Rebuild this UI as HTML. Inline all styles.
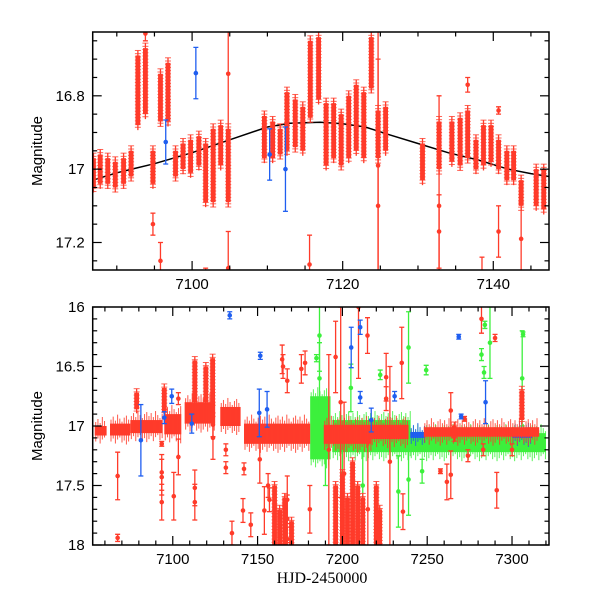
<!DOCTYPE html>
<html><head><meta charset="utf-8"><style>
html,body{margin:0;padding:0;background:#fff;}
svg{display:block;font-family:"Liberation Sans",sans-serif;}
</style></head><body>
<svg id="chart" width="600" height="600" viewBox="0 0 600 600" xmlns="http://www.w3.org/2000/svg">
<rect width="600" height="600" fill="#fff"/>
<g id="top"></g>
<g id="bot"></g>
<text transform="translate(42,151) rotate(-90)" text-anchor="middle" font-size="15">Magnitude</text>
<text transform="translate(42,426) rotate(-90)" text-anchor="middle" font-size="15">Magnitude</text>
<text x="322" y="583" text-anchor="middle" font-size="16" font-family="Liberation Serif, serif">HJD-2450000</text>
</svg>
<script>
// ---------- TOP PANEL DATA ----------
const topClT=[7086.9,7087.8,7088.8,7089.8,7090.9,7091.9,7092.8,7093.8,7094.8,7095.8,7096.8,7097.8,7098.8,7099.8,7100.9,7101.8,7102.8,7103.8,7104.8,7109.6,7110.7,7111.7,7112.6,7113.7,7114.7,7115.7,7116.8,7117.8,7118.8,7119.8,7120.8,7121.8,7122.8,7123.8,7124.7,7125.7,7130.6,7132.8,7134.5,7135.6,7136.6,7137.7,7138.7,7139.7,7140.7,7141.8,7142.7,7143.7,7145.7,7146.7];
const topClMin=[16.97,16.96,16.97,16.98,16.97,16.95,16.69,16.67,16.95,16.74,16.71,16.95,16.93,16.92,16.91,16.93,16.89,16.88,16.89,16.855,16.87,16.89,16.79,16.81,16.83,16.65,16.64,16.82,16.82,16.85,16.80,16.77,16.79,16.64,16.84,16.83,16.93,16.87,16.87,16.86,16.84,16.92,16.88,16.88,16.92,16.95,16.95,17.03,17.0,17.0];
const topClMax=[17.05,17.04,17.04,17.05,17.04,17.02,16.88,16.85,17.04,16.87,16.87,17.02,17.0,17.01,16.99,17.09,17.09,16.99,17.09,16.97,16.97,16.96,16.95,16.94,16.95,16.86,16.81,16.99,16.97,16.99,16.97,16.95,16.97,16.78,16.97,16.95,17.03,17.0,16.98,16.99,16.97,17.0,16.99,16.98,17.0,17.03,17.03,17.1,17.1,17.11];
const topRedT=[7093.8,7094.8,7095.8,7104.8,7104.8,7124.7,7124.7,7132.8,7132.8,7136.6,7140.7,7140.7,7143.7,7101.8,7115.6,7138.5];
const topRedM=[16.63,17.15,17.25,16.74,17.27,16.99,17.10,17.17,17.10,16.77,16.84,17.17,17.19,17.29,17.26,17.28];
const topRedE=[0.02,0.03,0.05,0.25,0.1,0.4,0.4,0.1,0.3,0.02,0.01,0.07,0.1,0.02,0.08,0.04];
const topBlueT=[7096.5,7100.5,7110.3,7112.4];
const topBlueM=[16.926,16.738,16.96,17.0];
const topBlueE=[0.06,0.07,0.07,0.115];
const modelT=[7086.8,7090,7095,7100,7105,7110,7113,7117,7120,7123,7126,7130,7134,7138,7142,7145,7147.4];
const modelM=[17.03,17.01,16.985,16.955,16.92,16.885,16.875,16.872,16.876,16.885,16.905,16.93,16.955,16.975,17.0,17.012,17.02];
const topXTicks=[7100,7120,7140];
const topXLabels=["7100","7120","7140"];
const topYTicks=[16.8,17,17.2];
const topYLabels=["16.8","17","17.2"];

// ---------- BOTTOM PANEL DATA ----------
const botBandT0=[7054,7063,7075,7095,7107,7128,7142,7189,7217,7248];
const botBandT1=[7061,7075,7094,7105,7125,7140,7181,7217,7239,7316];
const botBandMin=[17.0,16.98,16.95,16.9,16.8,16.84,16.98,16.99,16.99,17.01];
const botBandMax=[17.08,17.08,17.06,17.07,16.98,17.0,17.15,17.15,17.11,17.09];
const gBandT0=[7181,7194,7240];
const gBandT1=[7193,7240,7320];
const gBandMin=[16.75,16.95,17.06];
const gBandMax=[17.28,17.22,17.22];
const bBandT0=[7240,7300];
const bBandT1=[7249,7312];
const bBandMin=[17.05,17.04];
const bBandMax=[17.1,17.1];
const colT=[7078.7,7095,7113,7119.5,7123.5,7160,7163,7166,7170,7196,7200,7203,7206,7209,7212,7220,7222,7305.8,7266];
const colMin=[16.72,16.68,16.45,16.5,16.43,17.5,17.7,17.6,17.8,17.5,17.4,17.6,17.3,17.5,17.6,17.5,17.7,16.7,17.0];
const colMax=[16.86,16.88,16.8,16.8,16.8,18,18,18,18,18,18,18,18,18,18,18,18,16.95,17.1];
const bRedT=[7067.5,7067.5,7093.5,7093.5,7093.5,7093.5,7100.6,7103.3,7103.3,7113,7113,7123.7,7123.7,7131.3,7131.3,7134.9,7142,7141.4,7146,7151.3,7154,7156.2,7157,7164.5,7165,7167.5,7167.5,7167.5,7167.5,7175.8,7178,7180.8,7196,7199,7209.5,7214.8,7235,7225.8,7225.8,7201,7235.7,7263.9,7263.9,7257.8,7261.6,7272,7274,7290,7291,7282,7300,7283,7192,7215,7228];
const bRedM=[17.42,17.94,17.15,17.39,17.43,17.64,17.59,16.77,17.26,17.52,17.64,17.1,16.99,17.2,17.35,17.9,17.36,17.71,17.83,17.28,17.71,17.5,17.62,16.44,16.5,16.62,17.62,17.78,17.95,16.52,16.47,17.7,16.42,16.8,16.0,16.24,16.47,16.59,16.77,17.4,17.72,16.87,17.41,17.38,17.47,16.94,17.25,16.26,17.54,16.1,17.2,17.2,17.2,17.7,17.3];
const bRedE=[0.2,0.03,0.02,0.15,0.15,0.15,0.2,0.05,0.15,0.15,0.15,0.18,0.1,0.05,0.05,0.1,0.05,0.1,0.1,0.2,0.2,0.1,0.1,0.12,0.1,0.1,0.2,0.2,0.1,0.12,0.1,0.2,0.3,0.8,0.6,0.15,0.3,0.2,0.1,0.6,0.15,0.15,0.2,0.02,0.15,0.02,0.05,0.03,0.15,0.12,0.05,0.05,0.8,0.7,0.8];
const bBlueT=[7133.6,7151.6,7155.6,7151,7081.2,7095,7099.4,7111.2,7205.2,7210.5,7210.5,7230.8,7284.4,7268.6,7270,7217];
const bBlueM=[16.07,16.41,16.86,16.89,17.12,16.93,16.75,16.98,16.34,16.17,16.76,16.75,16.8,16.25,16.92,16.95];
const bBlueE=[0.03,0.03,0.15,0.2,0.3,0.05,0.06,0.08,0.17,0.06,0.05,0.04,0.18,0.02,0.02,0.1];
const bGreenT=[7184.7,7186.5,7306.5,7284,7282,7287,7249.4,7239,7222.3,7186.5,7283.5,7205,7239,7247,7233,7306,7200,7190,7212];
const bGreenM=[16.43,16.24,16.23,16.15,16.4,16.3,16.53,16.34,16.57,16.6,16.55,16.68,17.45,17.38,17.55,16.6,17.4,17.2,17.5];
const bGreenE=[0.03,0.3,0.02,0.03,0.05,0.3,0.04,0.3,0.04,0.3,0.05,0.2,0.3,0.1,0.3,0.4,0.3,0.3,0.3];
const botXTicks=[7100,7150,7200,7250,7300];
const botXLabels=["7100","7150","7200","7250","7300"];
const botYTicks=[16,16.5,17,17.5,18];
const botYLabels=["16","16.5","17","17.5","18"];

const RED="#ff3b2a", BLUE="#1f5ef0", GREEN="#3cf03c";
const NS="http://www.w3.org/2000/svg";
function mk(parent,tag,attrs){const e=document.createElementNS(NS,tag);for(const k in attrs)e.setAttribute(k,attrs[k]);parent.appendChild(e);return e;}

function panel(g,L,R,T,B,t0,t1,m0,m1){
  const x=t=>L+(t-t0)/(t1-t0)*(R-L);
  const y=m=>T+(m-m0)/(m1-m0)*(B-T);
  return {x,y,L,R,T,B,g};
}
const P1=panel(document.getElementById('top'),92.7,549,32,270,7086.8,7147.4,16.626,17.275);
const P2=panel(document.getElementById('bot'),92.7,549,307,545,7052.8,7321.8,16,18);

function clipFor(P,id){
  const cp=mk(P.g,'clipPath',{id:id});
  mk(cp,'rect',{x:P.L,y:P.T,width:P.R-P.L,height:P.B-P.T});
  const inner=mk(P.g,'g',{'clip-path':'url(#'+id+')'});
  
  
  return inner;
}
const A1=clipFor(P1,'c1'), A2=clipFor(P2,'c2');

function errPt(g,P,t,m,e,col,name){
  const X=P.x(t),Y=P.y(m),y1=P.y(m-e),y2=P.y(m+e);
  const gr=mk(g,'g',{});
  
  
  mk(gr,'line',{x1:X,x2:X,y1:y1,y2:y2,stroke:col,'stroke-width':1.3});
  mk(gr,'line',{x1:X-2.5,x2:X+2.5,y1:y1,y2:y1,stroke:col,'stroke-width':1.3});
  mk(gr,'line',{x1:X-2.5,x2:X+2.5,y1:y2,y2:y2,stroke:col,'stroke-width':1.3});
  mk(gr,'circle',{cx:X,cy:Y,r:2.3,fill:col});
}
function column(g,P,t,mn,mx,col,name,e){
  const X=P.x(t),y1=P.y(mn),y2=P.y(mx);
  const gr=mk(g,'g',{});
  
  
  mk(gr,'line',{x1:X,x2:X,y1:y1-e,y2:y2+e,stroke:col,'stroke-width':1.3});
  mk(gr,'rect',{x:X-2.4,y:y1,width:4.8,height:Math.max(y2-y1,2),fill:col});
  for(let yy=y1-e;yy<=y2+e+0.1;yy+=3.2){mk(gr,'line',{x1:X-3,x2:X+3,y1:yy,y2:yy,stroke:col,'stroke-width':1,opacity:0.8});}
}
function band(g,P,t0,t1,mn,mx,col,name){
  const gr=mk(g,'g',{});
  
  
  const xa=P.x(t0),xb=P.x(t1),ya=P.y(mn),yb=P.y(mx);
  mk(gr,'rect',{x:xa,y:ya,width:xb-xa,height:yb-ya,fill:col});
  let k=0;
  for(let X=xa+1;X<xb;X+=2.2,k++){
    const ext=[4,7,3,9,5,2,6,8][k%8];
    mk(gr,'line',{x1:X,x2:X,y1:ya-ext,y2:yb+[6,3,8,4,2,7,5,9][k%8],stroke:col,'stroke-width':1,opacity:0.85});
  }
}

// TOP drawing
let d="";
modelT.forEach((t,i)=>{d+=(i?"L":"M")+P1.x(t).toFixed(1)+","+P1.y(modelM[i]).toFixed(1);});
const mp=mk(A1,'path',{d:d,fill:'none',stroke:'#000','stroke-width':1.5});


topClT.forEach((t,i)=>column(A1,P1,t,topClMin[i],topClMax[i],RED,'red-cluster',5));
topRedT.forEach((t,i)=>errPt(A1,P1,t,topRedM[i],topRedE[i],RED,'red-point'));
topBlueT.forEach((t,i)=>errPt(A1,P1,t,topBlueM[i],topBlueE[i],BLUE,'blue-point'));

// BOTTOM drawing
gBandT0.forEach((t,i)=>band(A2,P2,t,gBandT1[i],gBandMin[i],gBandMax[i],GREEN,'green-band'));
bGreenT.forEach((t,i)=>errPt(A2,P2,t,bGreenM[i],bGreenE[i],GREEN,'green-point'));
bBandT0.forEach((t,i)=>band(A2,P2,t,bBandT1[i],bBandMin[i],bBandMax[i],BLUE,'blue-band'));
botBandT0.forEach((t,i)=>band(A2,P2,t,botBandT1[i],botBandMin[i],botBandMax[i],RED,'red-band'));
colT.forEach((t,i)=>column(A2,P2,t,colMin[i],colMax[i],RED,'red-column',4));
bRedT.forEach((t,i)=>errPt(A2,P2,t,bRedM[i],bRedE[i],RED,'red-point'));
bBlueT.forEach((t,i)=>errPt(A2,P2,t,bBlueM[i],bBlueE[i],BLUE,'blue-point'));

function axes(P,xMinorStep,xTicks,xLabels,yMinorStep,yTicks,yLabels,t0,t1,m0,m1,name){
  const g=mk(P.g,'g',{});
  
  
  mk(g,'rect',{x:P.L,y:P.T,width:P.R-P.L,height:P.B-P.T,fill:'none',stroke:'#000','stroke-width':1.5});
  const isMaj=(v,arr)=>arr.some(a=>Math.abs(a-v)<1e-6);
  for(let v=Math.ceil(t0/xMinorStep)*xMinorStep;v<=t1;v+=xMinorStep){
    const X=P.x(v),len=isMaj(v,xTicks)?9:4.5;
    mk(g,'line',{x1:X,x2:X,y1:P.B,y2:P.B-len,stroke:'#000','stroke-width':1.2});
    mk(g,'line',{x1:X,x2:X,y1:P.T,y2:P.T+len,stroke:'#000','stroke-width':1.2});
  }
  for(let k=Math.ceil(m0/yMinorStep-1e-6);k*yMinorStep<=m1+1e-6;k++){
    const v=k*yMinorStep,Y=P.y(v),len=isMaj(v,yTicks)?9:4.5;
    mk(g,'line',{x1:P.L,x2:P.L+len,y1:Y,y2:Y,stroke:'#000','stroke-width':1.2});
    mk(g,'line',{x1:P.R,x2:P.R-len,y1:Y,y2:Y,stroke:'#000','stroke-width':1.2});
  }
  xTicks.forEach((v,i)=>{const tx=mk(g,'text',{x:P.x(v),y:P.B+19,'text-anchor':'middle','font-size':15});tx.textContent=xLabels[i];
    
    });
  yTicks.forEach((v,i)=>{const tx=mk(g,'text',{x:P.L-8,y:P.y(v)+5,'text-anchor':'end','font-size':15});tx.textContent=yLabels[i];
    
    });
}
axes(P1,5,topXTicks,topXLabels,0.05,topYTicks,topYLabels,7086.8,7147.4,16.626,17.275,'top-axes');
axes(P2,10,botXTicks,botXLabels,0.1,botYTicks,botYLabels,7052.8,7321.8,16,18,'bottom-axes');
</script>
</body></html>
